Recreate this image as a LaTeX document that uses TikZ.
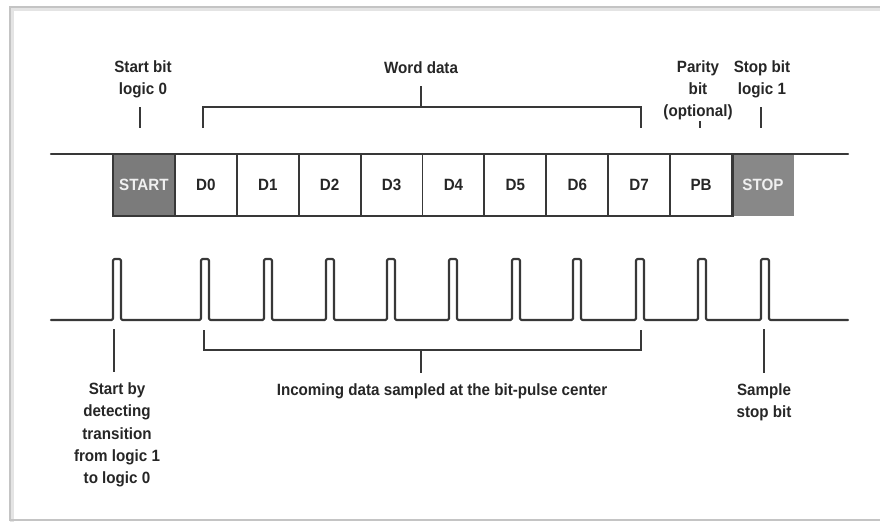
\documentclass[tikz,border=0pt]{standalone}
\usepackage{fontspec}
\setmainfont{Liberation Sans}[FakeStretch=0.93]
\definecolor{linegray}{HTML}{383838}
\definecolor{textgray}{HTML}{262626}
\definecolor{startfill}{HTML}{7B7B7B}
\definecolor{stopfill}{HTML}{888888}
\definecolor{framegray}{HTML}{C4C4C4}
\begin{document}
\begin{tikzpicture}[x=0.025cm,y=-0.025cm,
  wire/.style={draw=linegray, line width=1.5pt, line join=round, line cap=round},
  tick/.style={draw=linegray, line width=1.4pt},
  lbl/.style={font=\bfseries\fontsize{11.6}{15.8}\selectfont, text=textgray, align=center, inner sep=0pt},
  bitbox/.style={draw=linegray, line width=1.4pt, minimum width=1.5475cm, minimum height=1.55cm,
                 inner sep=0pt, font=\bfseries\fontsize{11.6}{14}\selectfont, text=textgray},
  markbox/.style={bitbox, text=white!94!black}]
  \useasboundingbox (0,0) rectangle (880,522);

  % page frame with a faint shadow
  \draw[framegray!45, line width=2.2pt] (880,9) -- (12,9) -- (12,522);
  \draw[framegray, line width=0.9pt] (880,7) -- (10,7) -- (10,520) -- (880,520);

  % bit cells of the frame
  \node[markbox, fill=startfill] (start) at (143.95,185) {START};
  \foreach \i in {0,...,7}
    \node[bitbox] (d\i) at ({113+61.9*(\i+1.5)},185) {D\i};
  \node[bitbox] (pb) at ({113+61.9*9.5},185) {PB};
  \node[markbox, draw=none, fill=stopfill] (stop) at ({113+61.9*10.5},184.5) {STOP};
  \draw[linegray, line width=1.4pt] (pb.north east) -- (pb.south east);

  % idle line / top of the frame
  \coordinate (idleL) at (51,154);
  \coordinate (idleR) at (848,154);
  \draw[wire] (idleL) -- (idleR);

  % sampling pulses
  \draw[wire, rounded corners=1pt] (51,320)
    foreach \c in {117,205,268,330,391,453,516,577,640,702,765}
      { -- (\c-4,320) -- (\c-4,259) -- (\c+4,259) -- (\c+4,320) }
    -- (848,320);

  % labels above the frame
  \node[lbl] (startlbl) at (143,79) {Start bit\\logic 0};
  \node[lbl] (wordlbl) at (421,68) {Word data};
  \node[lbl] (paritylbl) at (698,90) {Parity\\bit\\(optional)};
  \node[lbl] (stoplbl) at (762,79) {Stop bit\\logic 1};

  \coordinate (t1a) at (140,107); \coordinate (t1b) at (140,128);
  \draw[tick] (t1a) -- (t1b);
  \coordinate (wl) at (203,128); \coordinate (wr) at (641,128);
  \coordinate (wm) at (421,107); \coordinate (wt) at (421,86);
  \draw[tick] (wl) |- (wm) -| (wr);
  \draw[tick] (wm) -- (wt);
  \coordinate (p1) at (700,121); \coordinate (p2) at (700,128);
  \draw[tick] (p1) -- (p2);
  \coordinate (s1) at (761,107); \coordinate (s2) at (761,128);
  \draw[tick] (s1) -- (s2);

  % labels below the pulses
  \node[lbl] (detectlbl) at (117,435)
    {Start by\\detecting\\transition\\from logic 1\\to logic 0};
  \node[lbl] (samplelbl) at (442,391) {Incoming data sampled at the bit-pulse center};
  \node[lbl] (stopsmp) at (764,402) {Sample\\stop bit};

  \coordinate (b1a) at (114,329); \coordinate (b1b) at (114,372);
  \draw[tick] (b1a) -- (b1b);
  \coordinate (bl) at (204,330); \coordinate (br) at (641,330);
  \coordinate (bm) at (421,350); \coordinate (bt) at (421,373);
  \draw[tick] (bl) |- (bm) -| (br);
  \draw[tick] (bm) -- (bt);
  \coordinate (sa) at (764,329); \coordinate (sb) at (764,373);
  \draw[tick] (sa) -- (sb);
\end{tikzpicture}
\end{document}
